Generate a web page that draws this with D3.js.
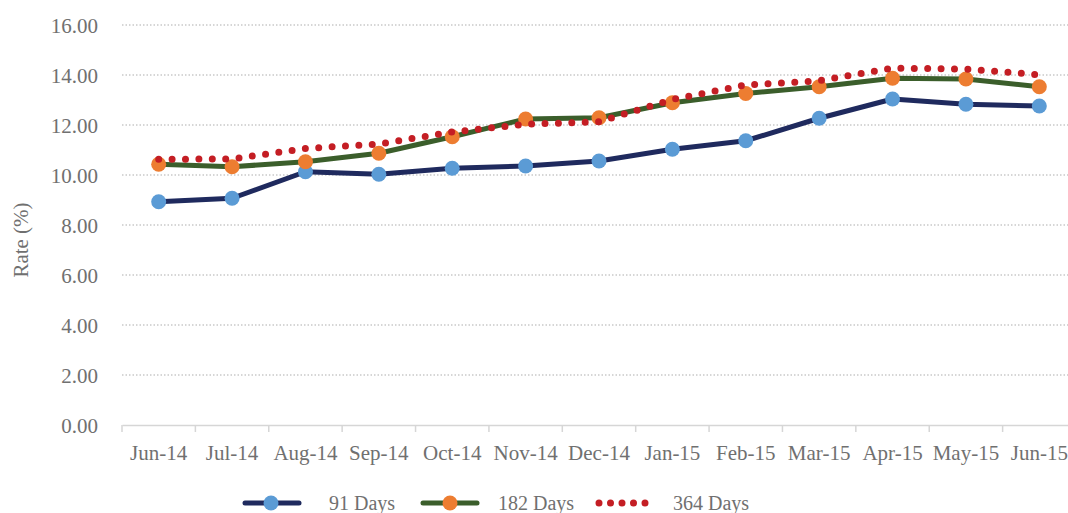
<!DOCTYPE html>
<meta charset="utf-8">
<style>
body { margin: 0; background: #fff; }
svg text { font-family: "Liberation Serif", "DejaVu Serif", serif; fill: #707070; }
.tick text { font-size: 21px; }
.legend text { font-size: 20px; }
.ylab { font-size: 21px; }
</style>
<svg width="1068" height="513"></svg>
<script src="https://d3js.org/d3.v7.min.js"></script>
<script>
var months = ["Jun-14","Jul-14","Aug-14","Sep-14","Oct-14","Nov-14","Dec-14","Jan-15","Feb-15","Mar-15","Apr-15","May-15","Jun-15"];
var days91 = [8.93, 9.07, 10.13, 10.03, 10.27, 10.36, 10.56, 11.03, 11.37, 12.27, 13.04, 12.83, 12.76];
var days182 = [10.43, 10.33, 10.53, 10.87, 11.53, 12.24, 12.29, 12.89, 13.26, 13.53, 13.87, 13.84, 13.53];
var days364 = [10.63, 10.64, 11.06, 11.24, 11.72, 12.03, 12.13, 13.02, 13.6, 13.77, 14.27, 14.24, 14.01];
var yTicks = [0, 2, 4, 6, 8, 10, 12, 14, 16];

var svg = d3.select("svg"),
    plotL = 122, plotR = 1076, plotT = 25, plotB = 425;

var x = d3.scaleBand().domain(months).range([plotL, plotR]);
var y = d3.scaleLinear().domain([0, 16]).range([plotB, plotT]);

// grid
svg.append("g").selectAll("line").data(yTicks.filter(function(d){ return d > 0; })).enter()
  .append("line")
  .attr("x1", plotL).attr("x2", plotR)
  .attr("y1", function(d){ return y(d); }).attr("y2", function(d){ return y(d); })
  .attr("stroke", "#c9c9c9").attr("stroke-width", 1.3).attr("stroke-dasharray", "1.5 2");

// y axis labels
var ya = svg.append("g").attr("transform", "translate(98,0)")
  .call(d3.axisLeft(y).tickValues(yTicks).tickFormat(d3.format(".2f")).tickSize(0));
ya.select(".domain").remove();
ya.selectAll("text").attr("x", 0).attr("dy", "0.35em");

// x axis
var xa = svg.append("g").attr("transform", "translate(0," + plotB + ")")
  .call(d3.axisBottom(x).tickSize(0).tickPadding(20));
xa.select(".domain").attr("stroke", "#d6d6d6").attr("stroke-width", 1.5);
xa.selectAll(".tick line").remove();
var bounds = months.map(function(m){ return x(m); }).concat([plotR]);
xa.selectAll(".bnd").data(bounds).enter().append("line")
  .attr("x1", function(d){ return d; }).attr("x2", function(d){ return d; })
  .attr("y1", 0).attr("y2", 7)
  .attr("stroke", "#d6d6d6").attr("stroke-width", 1.5);
xa.selectAll("text").attr("dy", "0.71em");

svg.append("text").attr("class", "ylab")
  .attr("transform", "translate(28,240) rotate(-90)")
  .attr("text-anchor", "middle").text("Rate (%)");

var cx = function(d, i){ return x(months[i]) + x.bandwidth() / 2; };
var line = d3.line().x(function(d, i){ return cx(d, i); }).y(function(d){ return y(d); });

function drawSeries(vals, lineColor, markColor) {
  svg.append("path").datum(vals).attr("d", line)
    .attr("fill", "none").attr("stroke", lineColor).attr("stroke-width", 5)
    .attr("stroke-linejoin", "round");
  svg.append("g").selectAll("circle").data(vals).enter().append("circle")
    .attr("cx", cx).attr("cy", function(d){ return y(d); })
    .attr("r", 7.5).attr("fill", markColor);
}
drawSeries(days91, "#1f2a5e", "#5b9bd5");
drawSeries(days182, "#3b5e2b", "#ed7d31");

svg.append("path").datum(days364).attr("d", line)
  .attr("fill", "none").attr("stroke", "#c41e24").attr("stroke-width", 7)
  .attr("stroke-linecap", "round").attr("stroke-dasharray", "0 13.4");

// legend
var lg = svg.append("g").attr("class", "legend").attr("transform", "translate(0,503)");
lg.append("line").attr("x1", 245).attr("x2", 299).attr("stroke", "#1f2a5e").attr("stroke-width", 5).attr("stroke-linecap", "round");
lg.append("circle").attr("cx", 271).attr("r", 7.5).attr("fill", "#5b9bd5");
lg.append("text").attr("x", 329).attr("dy", "0.35em").text("91 Days");
lg.append("line").attr("x1", 423).attr("x2", 477).attr("stroke", "#3b5e2b").attr("stroke-width", 5).attr("stroke-linecap", "round");
lg.append("circle").attr("cx", 450).attr("r", 7.5).attr("fill", "#ed7d31");
lg.append("text").attr("x", 498).attr("dy", "0.35em").text("182 Days");
lg.append("line").attr("x1", 599).attr("x2", 645.5).attr("stroke", "#c41e24").attr("stroke-width", 7)
  .attr("stroke-linecap", "round").attr("stroke-dasharray", "0 11.5");
lg.append("text").attr("x", 673).attr("dy", "0.35em").text("364 Days");
</script>
